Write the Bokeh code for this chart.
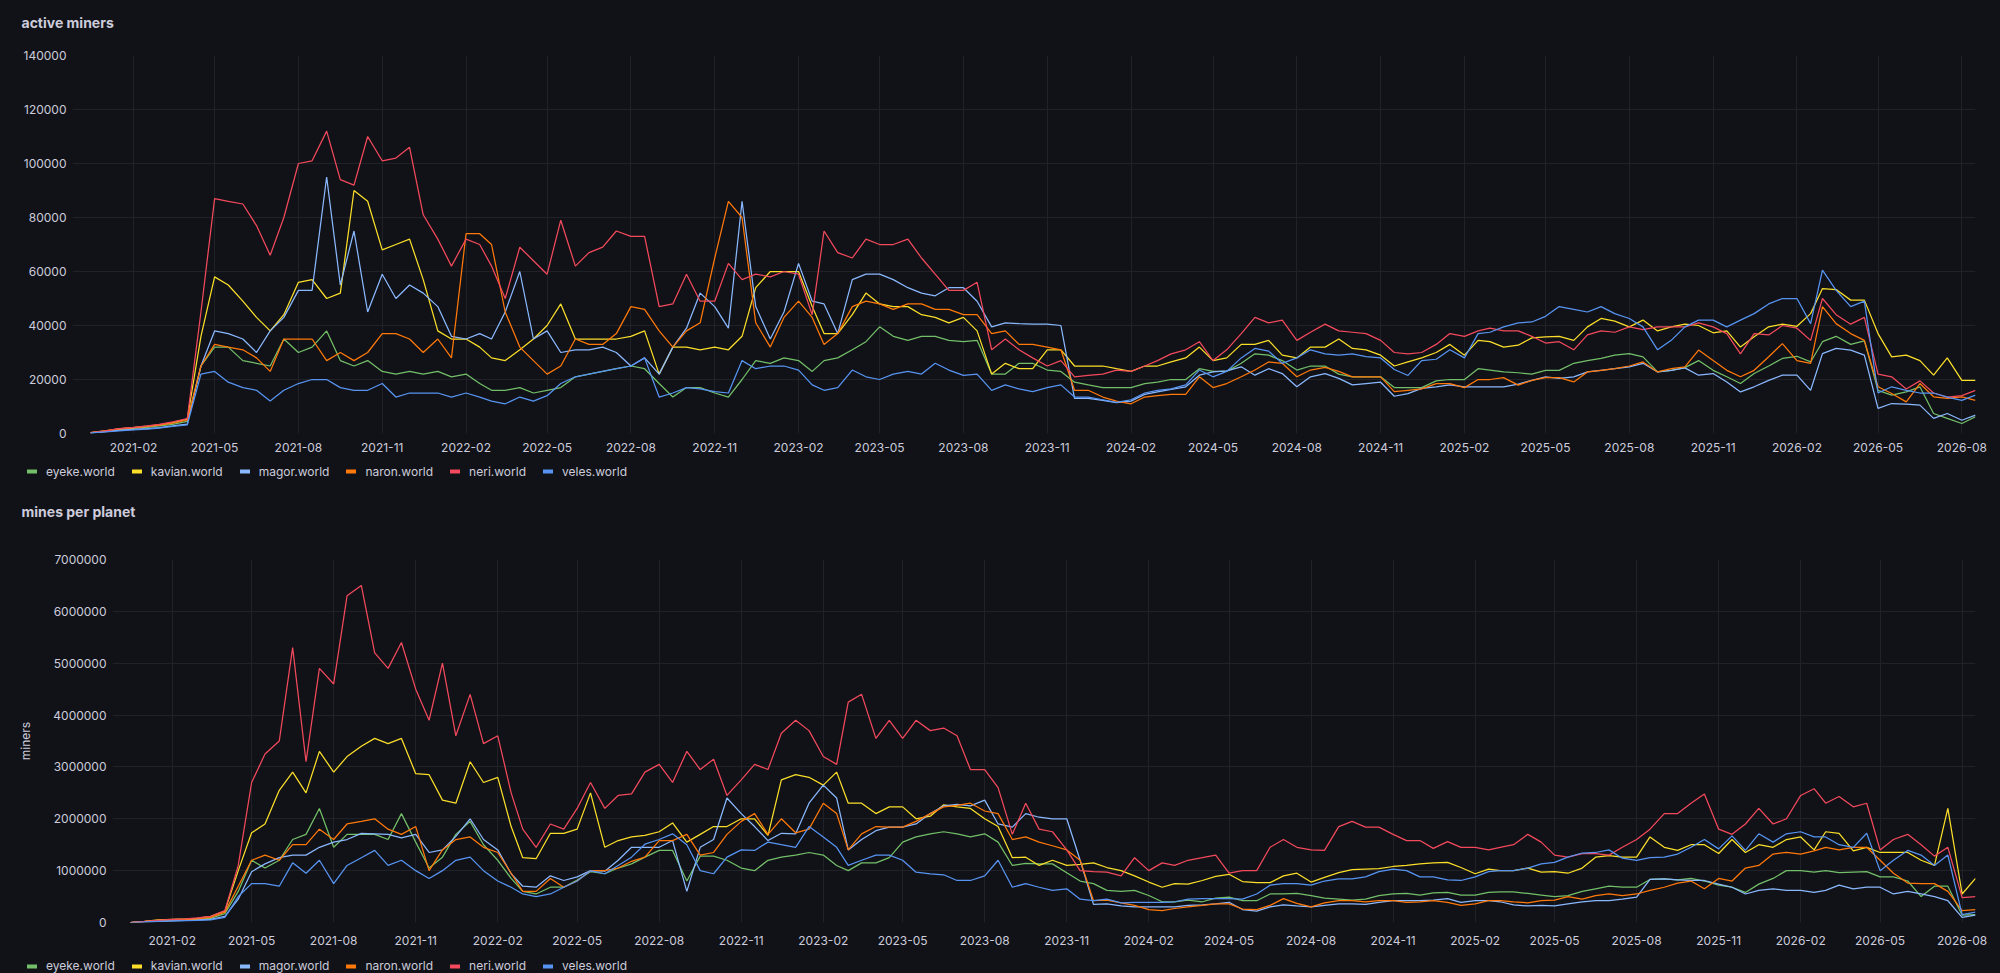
from datetime import datetime
import numpy as np
from bokeh.plotting import figure
from bokeh.models import (ColumnDataSource, Legend, LegendItem, FixedTicker, Label,
                          DatetimeTickFormatter, NumeralTickFormatter, Range1d)
from bokeh.embed import file_html
from bokeh.resources import INLINE

# ---------------- data ----------------
SERIES = ["eyeke.world", "kavian.world", "magor.world", "naron.world", "neri.world", "veles.world"]
COLORS = ["#73BF69", "#FADE2A", "#8AB8FF", "#FF780A", "#F2495C", "#5794F2"]

# sample dates: 1st and 16th of each month
dates = [datetime(2020, 12, 16)] + [datetime(y, m, d) for y in range(2021, 2027)
                                    for m in range(1, 13) for d in (1, 16)
                                    if datetime(y, m, d) <= datetime(2026, 8, 16)]

# active miners (thousands)
eyeke_active = [
    0.2, 0.8, 1.4, 1.9, 2.3, 2.8, 3.4, 4.5, 25, 32,
    32, 27, 26, 25, 35, 30, 32, 38, 27, 25,
    27, 23, 22, 23, 22, 23, 21, 22, 18.5, 16,
    16, 17, 15, 16, 17, 21, 22, 23, 24, 25,
    24, 18.5, 13.5, 17, 17, 15, 13.5, 20, 27, 26,
    28, 27, 23, 27, 28, 31, 34, 39.5, 36, 34.5,
    36, 36, 34.5, 34, 34.5, 22, 22, 26, 26, 23.5,
    23, 19, 18, 17, 17, 17, 18.5, 19, 20, 20,
    24, 23, 23, 26, 29.5, 29, 27, 23.5, 25, 25,
    22, 21, 21, 21, 17, 17, 17, 19.5, 20, 20,
    24, 23.5, 22.8, 22.5, 22, 23.4, 23.4, 26, 27, 27.8,
    29, 29.6, 28.4, 22.8, 23.4, 24.4, 27, 23.4, 21, 18.5,
    22.2, 25, 27.8, 28.6, 26.5, 34, 36, 33, 34.3, 16,
    14.2, 15.4, 17.3, 7.4, 5.6, 3.7, 6.2]
kavian_active = [
    0.3, 1.0, 1.7, 2.2, 2.7, 3.2, 4.0, 5.3, 36, 58,
    55, 49, 43, 38, 44, 56, 57, 50, 52, 90,
    86, 68, 70, 72, 57, 38, 35, 35, 32, 28,
    27, 31, 35, 40, 48, 35, 35, 35, 35, 36,
    38, 22, 32, 32, 31, 32, 31, 36, 54, 60,
    60, 60, 47, 37, 37, 44, 52, 48, 47, 47,
    44, 43, 41, 43, 38, 22, 26, 24, 24, 31,
    31, 25, 25, 25, 24, 23, 25, 25, 26.5, 28,
    32, 27, 28, 33, 33, 34.5, 29, 28, 32, 32,
    35, 31.5, 31, 29, 25, 26.5, 28, 30, 33, 29,
    34.5, 34, 32, 32.7, 35.4, 35.8, 36, 34.5, 39.5, 42.6,
    41.6, 39.5, 42, 38, 39.5, 40.5, 40, 37.3, 38, 32,
    35.8, 39.5, 40.5, 39.7, 44.4, 53.7, 53.3, 49.4, 49.4, 37,
    28.4, 29, 27, 21.6, 28, 19.7, 19.7]
magor_active = [
    0.2, 0.7, 1.2, 1.5, 1.8, 2.2, 2.8, 3.5, 25, 38,
    37, 35, 30, 38, 43, 53, 53, 95, 55, 75,
    45, 59, 50, 55, 52, 47, 36, 35, 37, 35,
    45, 60, 35, 38, 30, 31, 31, 32, 30, 25,
    28, 22, 32, 39, 52, 47, 39, 86, 47, 35,
    45, 63, 49, 48, 37, 57, 59, 59, 57, 54,
    52, 51, 54, 54, 49, 39.5, 41, 40.7, 40.5, 40.5,
    40, 13, 13, 12.3, 11.4, 12, 14.5, 15.4, 16.3, 17.3,
    21.6, 22.8, 23.2, 24.7, 21.6, 24, 22.2, 17.3, 21, 22.2,
    20.4, 18, 18.5, 19, 13.8, 14.8, 16.7, 17.3, 18, 17.3,
    17.3, 17.3, 17.3, 18.3, 19.7, 21, 20.4, 21, 22.8, 23.4,
    24, 24.7, 26, 22.8, 23.4, 24.3, 21.6, 22.2, 19.1, 15.4,
    17.3, 19.7, 21.6, 21.6, 16, 29.6, 31.5, 30.9, 29, 9.3,
    11.1, 10.9, 10.5, 5.6, 7.4, 4.9, 6.8]
naron_active = [
    0.3, 1.0, 1.7, 2.2, 2.6, 3.1, 3.8, 5.0, 25, 33,
    32, 31, 28, 23, 35, 35, 35, 27, 30, 27,
    30, 37, 37, 35, 30, 35, 28, 74, 74, 70,
    45, 32, 27, 22, 25, 35, 33, 33, 37, 47,
    46, 38, 32, 38, 41, 65, 86, 80, 41, 32,
    43, 49, 43, 33, 37, 47, 49, 48, 46, 48,
    48, 46, 46, 44, 44, 37, 38, 33, 33, 32,
    31, 16, 16, 13.5, 12, 11, 13.5, 14, 14.5, 14.5,
    21, 17, 18.5, 21, 23.5, 26.5, 26, 21, 23.5, 24.5,
    23, 21, 21, 21, 15.5, 16, 16.5, 18.5, 18.5, 17,
    20, 20, 20.7, 17.9, 19.7, 20.7, 20.7, 19.1, 22.8, 23.4,
    24, 25, 26.5, 22.8, 24, 24.7, 30.9, 27, 23.4, 21,
    23.4, 28.4, 33.3, 27, 26, 47, 40.7, 37, 34.5, 17.3,
    14.8, 11.7, 18.5, 13.6, 13, 13.6, 12.3]
neri_active = [
    0.3, 1.0, 1.8, 2.3, 2.8, 3.4, 4.3, 5.5, 45, 87,
    86, 85, 77, 66, 80, 100, 101, 112, 94, 92,
    110, 101, 102, 106, 81, 72, 62, 72, 70, 62,
    50, 69, 64, 59, 79, 62, 67, 69, 75, 73,
    73, 47, 48, 59, 49, 49, 63, 57, 59, 58,
    60, 59, 44, 75, 67, 65, 72, 70, 70, 72,
    65, 59, 53, 53, 56, 31, 35, 31, 28, 25,
    27, 21, 21.5, 22, 23.5, 23, 25, 27, 29.5, 31,
    34, 27, 31, 37, 43, 41, 42, 34.5, 37.5, 40.5,
    38, 37.5, 37, 34.5, 30, 29.5, 30, 33, 37, 36,
    38, 39, 38, 38, 36, 33.5, 34, 31, 36.5, 38,
    37.5, 39.5, 38.5, 39.5, 39.5, 39.5, 41, 39.5, 37, 29.5,
    37, 36.5, 40, 39, 34.5, 50, 44, 40.5, 43, 22,
    21, 16.5, 19.5, 15, 13.5, 14, 16]
veles_active = [
    0.2, 0.6, 1.0, 1.3, 1.6, 2.0, 2.6, 3.2, 22, 23,
    19, 17, 16, 12, 16, 18.5, 20, 20, 17, 16,
    16, 18.5, 13.5, 15, 15, 15, 13.5, 15, 13.5, 12,
    11, 13.5, 12, 14, 18.5, 21, 22, 23, 24, 25,
    28, 13.5, 15, 17, 16.5, 15.5, 15, 27, 24, 25,
    25, 23.5, 18, 16, 17, 23.5, 21, 20, 22, 23,
    22, 26, 23.5, 21.5, 22, 16, 18, 16.5, 15.5, 17,
    18, 13.5, 13.5, 12.5, 11.5, 12.5, 15, 16, 16.5, 18,
    23.5, 21, 23, 28, 31.5, 30.5, 26, 28, 31, 29.5,
    29, 29.5, 28.5, 28, 23.7, 21.5, 27, 27.5, 31, 28,
    37, 37.5, 39.5, 41, 41.3, 43.4, 47, 46, 45, 47,
    44.4, 42.6, 39.5, 31, 34.5, 39.5, 42, 42, 39.5, 42,
    44.4, 48, 50, 50, 40.7, 60.5, 53, 47, 49, 15,
    17.3, 16, 15, 15, 13.5, 12.3, 14.2]

# mines per planet (millions)
eyeke_mpp = [
    0, 0.015, 0.03, 0.04, 0.05, 0.06, 0.08, 0.17, 0.6, 1.2,
    1.05, 1.2, 1.6, 1.7, 2.2, 1.45, 1.7, 1.7, 1.7, 1.6,
    2.1, 1.55, 1.05, 1.26, 1.7, 1.95, 1.5, 1.2, 0.85, 0.6,
    0.55, 0.68, 0.68, 0.82, 0.98, 0.94, 1.05, 1.13, 1.26, 1.39,
    1.39, 0.8, 1.28, 1.28, 1.2, 1.05, 1.0, 1.2, 1.26, 1.3,
    1.35, 1.3, 1.1, 1.0, 1.15, 1.15, 1.25, 1.55, 1.65, 1.71,
    1.75, 1.71, 1.65, 1.71, 1.55, 1.1, 1.14, 1.13, 1.13, 0.96,
    0.8, 0.75, 0.62, 0.6, 0.62, 0.52, 0.4, 0.4, 0.43, 0.4,
    0.47, 0.49, 0.42, 0.42, 0.55, 0.55, 0.56, 0.52, 0.47, 0.45,
    0.43, 0.45, 0.52, 0.55, 0.56, 0.53, 0.57, 0.58, 0.53, 0.53,
    0.58, 0.59, 0.59, 0.56, 0.53, 0.5, 0.52, 0.6, 0.65, 0.7,
    0.68, 0.68, 0.83, 0.84, 0.82, 0.85, 0.8, 0.72, 0.68, 0.58,
    0.74, 0.85, 1.0, 1.0, 0.97, 1.0, 0.96, 0.97, 0.98, 0.88,
    0.88, 0.8, 0.5, 0.7, 0.7, 0.14, 0.15]
kavian_mpp = [
    0, 0.02, 0.05, 0.06, 0.07, 0.08, 0.12, 0.22, 1.0, 1.73,
    1.9, 2.55, 2.9, 2.5, 3.3, 2.9, 3.2, 3.4, 3.55, 3.45,
    3.55, 2.87, 2.85, 2.36, 2.3, 3.1, 2.7, 2.8, 1.85, 1.25,
    1.23, 1.72, 1.72, 1.8, 2.5, 1.45, 1.58, 1.65, 1.68, 1.75,
    1.92, 1.55, 1.7, 1.85, 1.85, 2.0, 2.0, 1.68, 2.75, 2.85,
    2.8, 2.65, 2.9, 2.3, 2.3, 2.1, 2.23, 2.23, 2.0, 2.05,
    2.27, 2.23, 2.2, 2.0, 1.85, 1.25, 1.26, 1.1, 1.2, 1.1,
    1.12, 1.15, 1.06, 1.0, 0.9, 0.78, 0.68, 0.75, 0.74, 0.81,
    0.89, 0.93, 0.79, 0.77, 0.77, 0.9, 0.95, 0.78, 0.87, 0.96,
    1.02, 1.03, 1.04, 1.08, 1.1, 1.13, 1.15, 1.16, 1.06, 0.94,
    1.03, 1.0, 1.0, 1.05, 0.97, 0.98, 0.95, 1.05, 1.26, 1.29,
    1.26, 1.26, 1.65, 1.45, 1.39, 1.5, 1.5, 1.33, 1.6, 1.35,
    1.5, 1.45, 1.6, 1.65, 1.4, 1.75, 1.72, 1.38, 1.45, 1.35,
    1.35, 1.35, 1.2, 1.1, 2.2, 0.55, 0.85]
magor_mpp = [
    0, 0.01, 0.02, 0.03, 0.04, 0.05, 0.06, 0.12, 0.45, 0.98,
    1.13, 1.25, 1.3, 1.3, 1.45, 1.55, 1.6, 1.72, 1.71, 1.7,
    1.63, 1.7, 1.35, 1.4, 1.66, 2.0, 1.6, 1.4, 0.94, 0.7,
    0.68, 0.9, 0.81, 0.88, 1.0, 0.99, 1.2, 1.45, 1.45, 1.45,
    1.58, 0.6, 1.45, 1.6, 2.4, 2.1, 1.85, 1.58, 1.72, 1.71,
    2.3, 2.65, 2.4, 1.4, 1.6, 1.77, 1.84, 1.84, 1.9, 2.1,
    2.25, 2.28, 2.25, 2.36, 1.9, 1.84, 2.1, 2.03, 2.0, 2.0,
    1.2, 0.35, 0.36, 0.32, 0.3, 0.3, 0.3, 0.3, 0.33, 0.34,
    0.36, 0.39, 0.25, 0.22, 0.3, 0.34, 0.32, 0.3, 0.33, 0.36,
    0.36, 0.35, 0.39, 0.42, 0.42, 0.42, 0.43, 0.46, 0.39, 0.42,
    0.42, 0.4, 0.34, 0.32, 0.33, 0.32, 0.36, 0.4, 0.42, 0.42,
    0.45, 0.49, 0.83, 0.84, 0.82, 0.81, 0.81, 0.74, 0.68, 0.55,
    0.62, 0.65, 0.62, 0.62, 0.58, 0.62, 0.72, 0.65, 0.68, 0.68,
    0.55, 0.6, 0.55, 0.5, 0.42, 0.1, 0.14]
naron_mpp = [
    0, 0.02, 0.04, 0.05, 0.06, 0.07, 0.1, 0.2, 0.7, 1.2,
    1.3, 1.2, 1.5, 1.5, 1.8, 1.6, 1.9, 1.95, 2.0, 1.8,
    1.7, 1.85, 1.0, 1.4, 1.6, 1.65, 1.45, 1.35, 0.95, 0.6,
    0.6, 0.85, 0.68, 0.8, 1.0, 1.0, 1.05, 1.18, 1.26, 1.58,
    1.58, 1.7, 1.3, 1.35, 1.7, 1.95, 2.1, 1.7, 2.0, 1.73,
    1.8, 2.3, 2.1, 1.4, 1.71, 1.85, 1.84, 1.84, 1.95, 2.1,
    2.23, 2.26, 2.3, 2.15, 2.1, 1.6, 1.65, 1.55, 1.48, 1.4,
    1.2, 0.42, 0.43, 0.38, 0.33, 0.25, 0.23, 0.27, 0.3, 0.33,
    0.36, 0.36, 0.26, 0.25, 0.33, 0.46, 0.37, 0.3, 0.38, 0.42,
    0.42, 0.4, 0.42, 0.42, 0.39, 0.4, 0.42, 0.39, 0.33, 0.36,
    0.42, 0.42, 0.4, 0.38, 0.42, 0.43, 0.5, 0.45, 0.52, 0.55,
    0.52, 0.55, 0.62, 0.68, 0.76, 0.8, 0.65, 0.85, 0.8, 1.05,
    1.1, 1.32, 1.35, 1.32, 1.38, 1.45, 1.4, 1.45, 1.45, 1.2,
    0.95, 0.76, 0.75, 0.75, 0.6, 0.23, 0.25]
neri_mpp = [
    0, 0.02, 0.04, 0.06, 0.07, 0.09, 0.12, 0.23, 1.1, 2.7,
    3.25, 3.5, 5.3, 3.1, 4.9, 4.6, 6.3, 6.5, 5.2, 4.9,
    5.4, 4.5, 3.9, 5.0, 3.6, 4.4, 3.45, 3.6, 2.5, 1.8,
    1.45, 1.9, 1.8, 2.2, 2.7, 2.2, 2.45, 2.48, 2.9, 3.05,
    2.7, 3.3, 2.95, 3.15, 2.45, 2.75, 3.05, 2.95, 3.65, 3.9,
    3.7, 3.2, 3.05, 4.25, 4.4, 3.55, 3.9, 3.55, 3.9, 3.7,
    3.75, 3.6, 2.95, 2.95, 2.6, 1.7, 2.3, 1.8, 1.75, 1.4,
    1.0, 0.98, 0.97, 0.9, 1.25, 1.0, 1.15, 1.1, 1.2, 1.25,
    1.3, 0.95, 1.0, 1.0, 1.45, 1.6, 1.45, 1.4, 1.39, 1.85,
    1.95, 1.84, 1.84, 1.7, 1.58, 1.58, 1.43, 1.56, 1.45, 1.45,
    1.4, 1.45, 1.5, 1.7, 1.55, 1.3, 1.26, 1.33, 1.33, 1.3,
    1.45, 1.6, 1.8, 2.1, 2.1, 2.3, 2.48, 1.8, 1.7, 1.9,
    2.2, 1.9, 2.0, 2.45, 2.58, 2.3, 2.43, 2.23, 2.3, 1.4,
    1.6, 1.7, 1.5, 1.28, 1.45, 0.48, 0.5]
veles_mpp = [
    0, 0.01, 0.02, 0.03, 0.035, 0.04, 0.05, 0.1, 0.5, 0.75,
    0.75, 0.7, 1.15, 0.95, 1.2, 0.75, 1.1, 1.25, 1.39, 1.1,
    1.2, 1.0, 0.85, 1.0, 1.2, 1.26, 1.0, 0.8, 0.68, 0.55,
    0.5, 0.55, 0.68, 0.8, 1.0, 0.94, 1.1, 1.26, 1.51, 1.6,
    1.71, 1.5, 1.0, 0.94, 1.26, 1.4, 1.39, 1.55, 1.5, 1.45,
    1.85, 1.65, 1.45, 1.1, 1.2, 1.3, 1.3, 1.2, 0.97, 0.94,
    0.92, 0.81, 0.81, 0.9, 1.2, 0.68, 0.75, 0.68, 0.62, 0.65,
    0.45, 0.42, 0.45, 0.38, 0.39, 0.39, 0.39, 0.4, 0.45, 0.46,
    0.46, 0.46, 0.45, 0.55, 0.72, 0.75, 0.75, 0.72, 0.8, 0.84,
    0.84, 0.88, 0.98, 1.03, 1.0, 0.88, 0.88, 0.82, 0.81, 0.88,
    0.98, 1.0, 1.0, 1.05, 1.13, 1.16, 1.26, 1.34, 1.35, 1.4,
    1.24, 1.2, 1.25, 1.26, 1.32, 1.45, 1.6, 1.42, 1.67, 1.39,
    1.71, 1.55, 1.71, 1.75, 1.65, 1.65, 1.5, 1.45, 1.72, 1.0,
    1.2, 1.39, 1.3, 1.1, 1.3, 0.15, 0.2]

ACTIVE = [eyeke_active, kavian_active, magor_active, naron_active, neri_active, veles_active]
MPP = [eyeke_mpp, kavian_mpp, magor_mpp, naron_mpp, neri_mpp, veles_mpp]

X_START, X_END = datetime(2020, 11, 26), datetime(2026, 8, 16)
tick_dates = []
yy, mm = 2021, 2
while (yy, mm) <= (2026, 8):
    tick_dates.append(datetime(yy, mm, 1))
    mm += 3
    if mm > 12:
        mm -= 12
        yy += 1
XTICKS = [(d - datetime(1970, 1, 1)).total_seconds() * 1000 for d in tick_dates]
YTICKS_ACTIVE = list(range(0, 140001, 20000))
YTICKS_MPP = list(range(0, 7000001, 1000000))

# ---------------- style ----------------
BG = "#111217"
GRID = "#202227"
TXT = "#ccccdc"
FONT = "Inter"
W = 2000
LINE_W = 1.25


def strip(height, titles=(), legend_y=None):
    """Band without a plot frame: holds a panel title and/or a legend row."""
    s = figure(width=W, height=height, min_border=0, output_backend="svg",
               toolbar_location=None, x_axis_location=None, y_axis_location=None,
               x_range=Range1d(0, W), y_range=Range1d(height, 0),
               background_fill_color=BG, border_fill_color=BG, outline_line_color=None)
    s.grid.visible = False
    for text, ty in titles:
        s.add_layout(Label(x=21, y=ty, text=text, text_baseline="middle", text_align="left",
                           text_font=FONT, text_font_size="14px", text_font_style="bold",
                           text_color=TXT))
    if legend_y is not None:
        items = []
        for name, color in zip(SERIES, COLORS):
            # legend swatch only: a line renderer with no drawable point
            icon = s.line(x=[np.nan], y=[np.nan], line_color=color, line_width=4,
                          line_cap="round")
            items.append(LegendItem(label=name, renderers=[icon]))
        s.add_layout(Legend(items=items, orientation="horizontal",
                            location=(27, height - legend_y - 7),
                            padding=0, margin=0, spacing=17, label_standoff=9,
                            glyph_width=10, glyph_height=14, label_height=14,
                            label_text_font=FONT, label_text_font_size="12px",
                            label_text_color=TXT, label_text_baseline="middle",
                            border_line_color=None, background_fill_alpha=0))
    return s


def panel(values, scale, ymax, yticks, height, left, top, bottom, xstandoff, ylabel=None):
    src = ColumnDataSource(dict(date=dates, **{n: np.array(v, dtype=float) * scale
                                               for n, v in zip(SERIES, values)}))
    p = figure(width=W, height=height, x_axis_type="datetime",
               output_backend="svg", toolbar_location=None,
               x_range=Range1d(X_START, X_END), y_range=Range1d(0, ymax),
               min_border_left=left, min_border_right=25,
               min_border_top=top, min_border_bottom=bottom,
               background_fill_color=BG, border_fill_color=BG, outline_line_color=None)
    p.xaxis.ticker = FixedTicker(ticks=XTICKS)
    p.xaxis.formatter = DatetimeTickFormatter(years="%Y-%m", months="%Y-%m", days="%Y-%m")
    p.yaxis.ticker = FixedTicker(ticks=yticks)
    p.yaxis.formatter = NumeralTickFormatter(format="0")
    for ax in p.axis:
        ax.axis_line_color = None
        ax.major_tick_line_color = None
        ax.minor_tick_line_color = None
        ax.major_tick_out = 0
        ax.major_tick_in = 0
        ax.major_label_text_color = TXT
        ax.major_label_text_font = FONT
        ax.major_label_text_font_size = "12px"
    p.xaxis.major_label_standoff = xstandoff
    p.yaxis.major_label_standoff = 6
    if ylabel:
        p.yaxis.axis_label = ylabel
        p.yaxis.axis_label_text_font = FONT
        p.yaxis.axis_label_text_font_size = "12px"
        p.yaxis.axis_label_text_font_style = "normal"
        p.yaxis.axis_label_text_color = TXT
        p.yaxis.axis_label_standoff = 17
    p.xgrid.ticker = FixedTicker(ticks=XTICKS)
    p.ygrid.ticker = FixedTicker(ticks=yticks)
    p.grid.grid_line_color = GRID
    p.grid.grid_line_width = 1
    for name, color in zip(SERIES, COLORS):
        p.line(x="date", y=name, source=src, line_color=color, line_width=LINE_W)
    return p


head = strip(44, titles=[("active miners", 21.8)])
p1 = panel(ACTIVE, 1000, 140000, YTICKS_ACTIVE, height=414, left=72, top=11, bottom=25,
           xstandoff=9)
mid = strip(82, titles=[("mines per planet", 53.0)], legend_y=13.8)
p2 = panel(MPP, 1e6, 7000000, YTICKS_MPP, height=413, left=112, top=19, bottom=31,
           xstandoff=13, ylabel="miners")
foot = strip(20, legend_y=13)

html = file_html((head, p1, mid, p2, foot), INLINE, title="miners")
html = html.replace(
    "</head>",
    "<style>html,body{margin:0;padding:0;background:#111217;overflow:hidden;line-height:0;}"
    "body > div > div{vertical-align:top;}</style></head>", 1)
open("out.html", "w").write(html)
